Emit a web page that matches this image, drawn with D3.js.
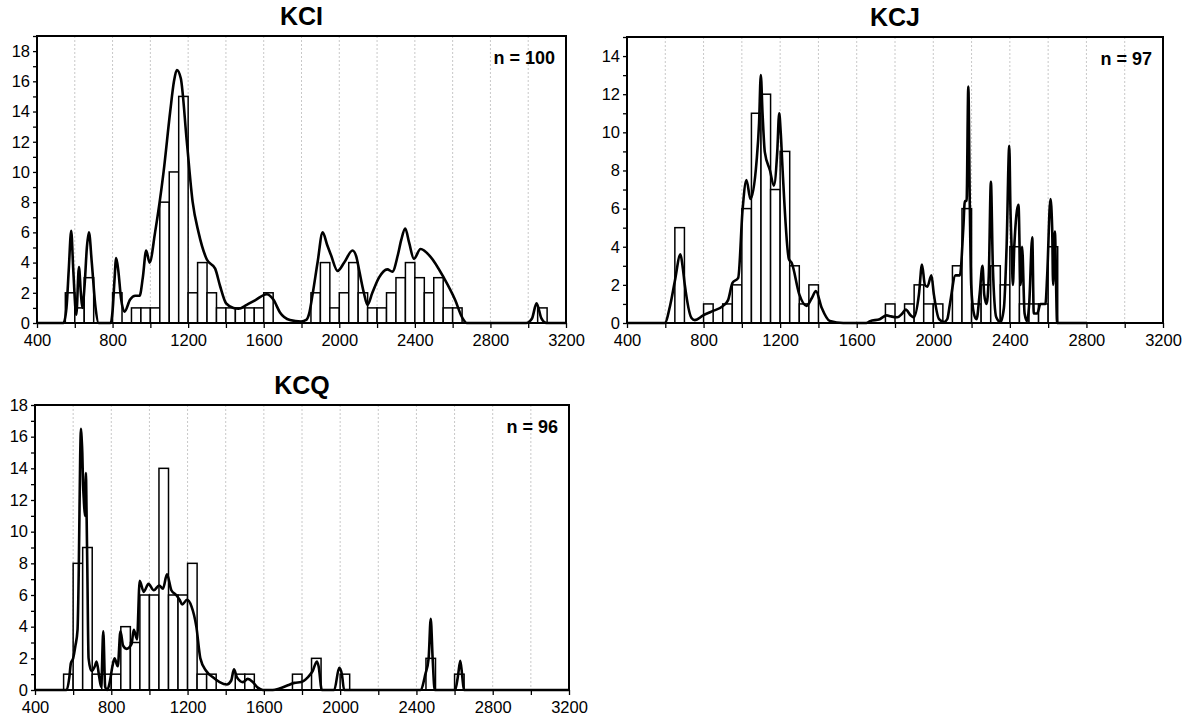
<!DOCTYPE html>
<html>
<head>
<meta charset="utf-8">
<script src="https://cdn.jsdelivr.net/npm/d3@7"></script>
<style>
  body { margin: 0; background: #fff; }
  svg  { font-family: "Liberation Sans", Arial, sans-serif; }
</style>
</head>
<body>
<svg id="chart" width="1189" height="717"></svg>
<script>
// bin width of the histograms (Ma)
const BIN = 50;
const xTickLabels = [400, 800, 1200, 1600, 2000, 2400, 2800, 3200];

// [bin start, count]
const kciBins = [
  [550, 2], [600, 1], [650, 3], [800, 2], [900, 1], [950, 1], [1000, 1], [1050, 8], [1100, 10],
  [1150, 15], [1200, 2], [1250, 4], [1300, 2], [1350, 1], [1400, 1], [1450, 1], [1500, 1], [1550, 1],
  [1600, 2], [1850, 2], [1900, 4], [1950, 1], [2000, 2], [2050, 4], [2100, 2], [2150, 1], [2200, 1],
  [2250, 2], [2300, 3], [2350, 4], [2400, 3], [2450, 2], [2500, 3], [2550, 1], [2600, 1], [3050, 1]
];
const kcjBins = [
  [650, 5], [800, 1], [900, 1], [950, 2], [1000, 6], [1050, 11], [1100, 12], [1150, 7], [1200, 9],
  [1250, 3], [1300, 1], [1350, 2], [1750, 1], [1850, 1], [1900, 2], [1950, 1], [2000, 1], [2100, 3],
  [2150, 6], [2200, 1], [2250, 2], [2300, 3], [2350, 2], [2400, 4], [2450, 1], [2500, 1], [2550, 1],
  [2600, 4]
];
const kcqBins = [
  [550, 1], [600, 8], [650, 9], [700, 1], [750, 1], [800, 1], [850, 4], [900, 3], [950, 6], [1000, 6],
  [1050, 14], [1100, 6], [1150, 6], [1200, 8], [1250, 1], [1300, 1], [1450, 1], [1500, 1], [1750, 1],
  [1850, 2], [2000, 1], [2450, 2], [2600, 1]
];

// probability density curves: [age, value]
const kciCurve = [
  [400, 0], [540, 0], [556, 1.0], [568, 3.5], [581, 6.1], [592, 3.5], [608, 0.55], [622, 3.7], [632, 2.0],
  [640, 1.0], [652, 2.5], [664, 5.0], [675, 6.0], [690, 4.0], [710, 1.0], [726, 0], [790, 0], [800, 0.8],
  [810, 2.8], [819, 4.3], [830, 3.5], [845, 1.6], [863, 0.75], [893, 1.55], [920, 1.8], [943, 1.8],
  [960, 3.0], [978, 4.8], [996, 4.0], [1025, 6.0], [1070, 10], [1105, 14], [1125, 16.0], [1140, 16.75],
  [1161, 16.2], [1193, 12], [1224, 8], [1255, 6], [1299, 4.2], [1343, 3.6], [1369, 2.45], [1401, 1.3],
  [1440, 1.0], [1466, 0.95], [1510, 1.2], [1554, 1.5], [1616, 1.9], [1651, 1.55], [1686, 0.7],
  [1739, 0.2], [1798, 0.1], [1825, 0.2], [1840, 0.6], [1860, 2.0], [1885, 4.0], [1912, 6.0], [1935, 5.2],
  [1956, 4.5], [1991, 3.45], [2026, 4.0], [2070, 4.8], [2090, 4.4], [2105, 3.5], [2130, 2.0], [2149, 1.2],
  [2175, 2.0], [2210, 3.0], [2254, 3.55], [2281, 3.4], [2310, 4.5], [2328, 5.5], [2349, 6.25],
  [2370, 5.3], [2395, 4.25], [2430, 4.9], [2482, 4.4], [2553, 3.0], [2614, 1.5], [2649, 0.4], [2675, 0],
  [2990, 0], [3020, 0.3], [3044, 1.3], [3070, 0.3], [3096, 0], [3200, 0]
];
const kcjCurve = [
  [400, 0], [597, 0], [627, 1.0], [650, 2.2], [679, 3.6], [690, 3.0], [702, 2.0], [737, 0.26], [754, 0.15],
  [798, 0.4], [841, 0.6], [902, 0.9], [928, 1.2], [951, 2.1], [981, 2.37], [1004, 5.97], [1024, 7.5],
  [1045, 6.5], [1077, 8.5], [1090, 10.5], [1099, 13.0], [1108, 11], [1120, 8.96], [1147, 8.0], [1167, 7.2],
  [1185, 9.0], [1195, 11.0], [1203, 10], [1213, 8.0], [1246, 3.34], [1260, 3.16], [1300, 1.5], [1338, 0.9],
  [1365, 1.3], [1387, 1.67], [1417, 0.8], [1460, 0.1], [1530, 0], [1650, 0], [1670, 0.1], [1720, 0.2],
  [1757, 0.4], [1777, 0.35], [1812, 0.3], [1838, 0.5], [1856, 0.7], [1882, 0.4], [1899, 0.3], [1925, 1.5],
  [1941, 3.07], [1956, 2.0], [1969, 1.9], [1990, 2.5], [2003, 1.5], [2030, 0.2], [2056, 0.05], [2073, 0.2],
  [2087, 1.0], [2116, 2.5], [2139, 2.5], [2157, 5.0], [2165, 6.4], [2174, 6.4], [2183, 12.4], [2191, 6.0],
  [2198, 2.0], [2212, 0.5], [2226, 0.2], [2242, 1.5], [2257, 3.0], [2266, 1.5], [2278, 1.0], [2290, 2.5],
  [2301, 7.4], [2311, 3.0], [2329, 0.3], [2351, 0.05], [2369, 0.8], [2383, 4.0], [2397, 9.3], [2403, 6.0],
  [2409, 4.0], [2416, 2.0], [2423, 4.0], [2445, 6.2], [2456, 2.0], [2464, 4.0], [2477, 0.5], [2490, 0.1],
  [2501, 1.0], [2517, 4.5], [2525, 0.5], [2543, 0.5], [2560, 1.0], [2586, 1.0], [2595, 2.5], [2612, 6.5],
  [2621, 5.0], [2626, 2.0], [2635, 4.8], [2647, 0], [2800, 0]
];
const kcqCurve = [
  [400, 0], [566, 0], [580, 0.8], [588, 1.68], [600, 2.0], [612, 2.8], [623, 3.8], [630, 8.0], [637, 14.8],
  [641, 16.5], [645, 15.8], [648, 15], [652, 13.0], [656, 12.0], [662, 11.0], [667, 13.7], [670, 11.5],
  [674, 8], [681, 2.0], [696, 1.2], [714, 1.5], [723, 1.8], [737, 0.8], [747, 0.2], [758, 3.7], [768, 0.2],
  [779, 0], [792, 0.5], [806, 1.5], [817, 2.0], [834, 1.5], [848, 3.7], [862, 2.8], [880, 2.6], [906, 2.9],
  [918, 3.8], [935, 3.2], [949, 6.9], [970, 6.2], [995, 6.7], [1023, 6.3], [1051, 6.6], [1071, 6.4],
  [1092, 7.3], [1115, 6.3], [1140, 6.0], [1158, 5.7], [1172, 5.4], [1197, 5.7], [1220, 5.3], [1246, 4.0],
  [1267, 2.0], [1298, 1.2], [1333, 0.8], [1368, 0.5], [1406, 0.35], [1429, 0.6], [1443, 1.3], [1459, 0.8],
  [1490, 0.5], [1516, 0.7], [1542, 0.5], [1568, 0.15], [1595, 0], [1647, 0], [1682, 0.1], [1726, 0.3],
  [1760, 0.45], [1795, 0.5], [1830, 0.8], [1856, 1.2], [1878, 1.8], [1887, 1.5], [1904, 0], [1969, 0],
  [1995, 1.4], [2009, 1.0], [2021, 0], [2421, 0], [2447, 1.0], [2464, 2.0], [2475, 4.5], [2485, 2.0],
  [2496, 0], [2603, 0], [2618, 0.9], [2630, 1.85], [2640, 0.9], [2649, 0], [3200, 0]
];

const panels = [
  { title: 'KCI', n: 'n = 100', left: 37, top: 36, right: 566, bottom: 323, ymax: 19, bins: kciBins, curve: kciCurve },
  { title: 'KCJ', n: 'n = 97',  left: 627, top: 37, right: 1163, bottom: 323, ymax: 15, bins: kcjBins, curve: kcjCurve },
  { title: 'KCQ', n: 'n = 96',  left: 35, top: 405, right: 569, bottom: 690, ymax: 18, bins: kcqBins, curve: kcqCurve }
];

const svg = d3.select('#chart');

panels.forEach(p => {
  const x = d3.scaleLinear().domain([400, 3200]).range([p.left, p.right]);
  const y = d3.scaleLinear().domain([0, p.ymax]).range([p.bottom, p.top]);
  const g = svg.append('g');

  // dotted vertical grid every 200
  g.append('g').selectAll('line').data(d3.range(600, 3200, 200)).join('line')
    .attr('x1', d => x(d)).attr('x2', d => x(d))
    .attr('y1', p.top).attr('y2', p.bottom)
    .attr('stroke', '#c8c8c8').attr('stroke-width', 1).attr('stroke-dasharray', '2,2');

  // histogram
  g.append('g').selectAll('rect').data(p.bins).join('rect')
    .attr('x', d => x(d[0]))
    .attr('y', d => y(d[1]))
    .attr('width', d => x(d[0] + BIN) - x(d[0]))
    .attr('height', d => y(0) - y(d[1]))
    .attr('fill', '#fff').attr('stroke', '#000').attr('stroke-width', 1.5);

  // density curve
  g.append('path').datum(p.curve)
    .attr('fill', 'none').attr('stroke', '#000').attr('stroke-width', 2.6)
    .attr('stroke-linejoin', 'round')
    .attr('d', d3.line().x(d => x(d[0])).y(d => y(d[1])).curve(d3.curveMonotoneX));

  // axes
  const ax = g.append('g').attr('transform', `translate(0,${p.bottom})`)
    .call(d3.axisBottom(x).tickValues(d3.range(400, 3201, 200)).tickSize(5)
      .tickFormat(d => xTickLabels.includes(d) ? d : ''));
  ax.select('.domain').remove();
  ax.selectAll('line').attr('stroke', '#000').attr('stroke-width', 1.3);
  ax.selectAll('text').attr('font-size', 16.5).attr('fill', '#000').attr('dy', '0.9em')
    .attr('font-family', '"Liberation Sans", Arial, sans-serif');

  const ay = g.append('g').attr('transform', `translate(${p.left},0)`)
    .call(d3.axisLeft(y).tickValues(d3.range(0, p.ymax + 1, 1)).tickSize(4)
      .tickFormat(d => d % 2 === 0 ? d : ''));
  ay.select('.domain').remove();
  ay.selectAll('line').attr('stroke', '#000').attr('stroke-width', 1.3);
  ay.selectAll('text').attr('font-size', 16.5).attr('fill', '#000').attr('x', -7)
    .attr('font-family', '"Liberation Sans", Arial, sans-serif');

  // frame
  g.append('rect')
    .attr('x', p.left).attr('y', p.top)
    .attr('width', p.right - p.left).attr('height', p.bottom - p.top)
    .attr('fill', 'none').attr('stroke', '#000').attr('stroke-width', 2);

  g.append('text')
    .attr('x', (p.left + p.right) / 2).attr('y', p.top - 11)
    .attr('text-anchor', 'middle').attr('font-size', 25).attr('font-weight', 'bold')
    .text(p.title);

  g.append('text')
    .attr('x', p.right - 11).attr('y', p.top + 28)
    .attr('text-anchor', 'end').attr('font-size', 18).attr('font-weight', 'bold')
    .text(p.n);
});
</script>
</body>
</html>
